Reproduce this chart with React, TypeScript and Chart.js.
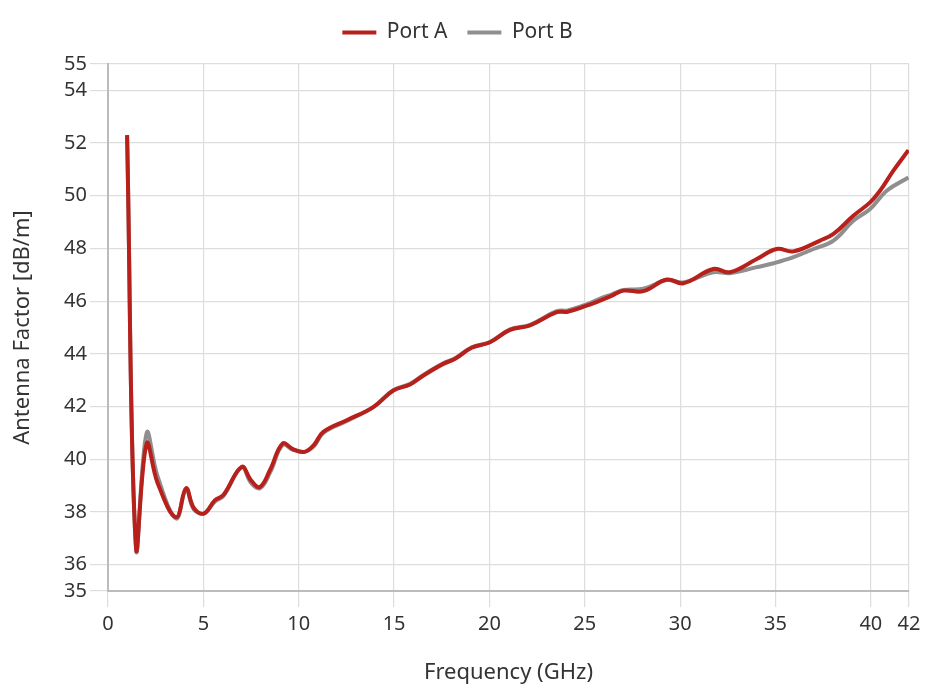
import React, { useEffect, useRef } from "react";
import { Chart, registerables } from "chart.js";

Chart.register(...registerables);

const freqA = [1.0, 1.47, 2.03, 2.6, 3.57, 4.09, 4.5, 5.03, 5.61, 6.05, 7.01, 7.5, 7.97, 8.5, 9.16, 9.7, 10.3, 10.8, 11.29, 12.52, 13.91, 14.96, 15.84, 16.54, 17.58, 18.2, 19.07, 20.03, 21.08, 22.13, 23.53, 24.1, 25.1, 25.8, 26.4, 27.02, 28.07, 29.3, 30.17, 31.74, 32.62, 34.02, 35.06, 35.94, 37.34, 38.04, 39.08, 39.96, 40.48, 41.18, 41.97];
const portA = [52.3, 36.65, 40.6, 39.1, 37.8, 38.9, 38.15, 37.94, 38.45, 38.64, 39.71, 39.2, 38.95, 39.6, 40.6, 40.38, 40.28, 40.55, 41.04, 41.48, 41.98, 42.61, 42.84, 43.18, 43.62, 43.81, 44.23, 44.44, 44.91, 45.08, 45.58, 45.6, 45.83, 46.02, 46.2, 46.4, 46.38, 46.82, 46.68, 47.22, 47.1, 47.6, 47.98, 47.89, 48.3, 48.55, 49.24, 49.75, 50.19, 50.95, 51.73];

const freqB = [1.0, 1.47, 2.03, 2.6, 3.57, 4.09, 4.5, 5.03, 5.61, 6.05, 7.01, 7.5, 7.97, 8.5, 9.16, 9.7, 10.3, 10.8, 11.29, 12.52, 13.91, 14.96, 15.84, 16.54, 17.58, 18.2, 19.07, 20.03, 21.08, 22.13, 23.53, 24.1, 25.1, 25.8, 26.4, 27.02, 28.07, 29.3, 30.17, 31.74, 32.62, 34.02, 34.9, 35.94, 36.99, 38.04, 39.08, 39.96, 40.83, 41.97];
const portB = [52.3, 36.6, 41.0, 39.35, 37.75, 38.85, 38.1, 37.95, 38.4, 38.6, 39.7, 39.1, 38.9, 39.5, 40.55, 40.36, 40.28, 40.5, 41.0, 41.45, 41.98, 42.62, 42.86, 43.2, 43.64, 43.83, 44.25, 44.45, 44.93, 45.1, 45.62, 45.65, 45.88, 46.1, 46.25, 46.42, 46.47, 46.8, 46.71, 47.1, 47.06, 47.29, 47.44, 47.67, 47.98, 48.3, 49.05, 49.5, 50.19, 50.69];

const xTicks = [0, 5, 10, 15, 20, 25, 30, 35, 40, 42];
const yTicks = [35, 36, 38, 40, 42, 44, 46, 48, 50, 52, 54, 55];

const FONT = "'Noto Sans', sans-serif";
const TEXT = "#333333";

const legendGap = {
  id: "legendGap",
  beforeInit(chart: any) {
    const lg = chart.legend;
    if (!lg) return;
    const orig = lg.fit;
    lg.fit = function () {
      orig.bind(lg)();
      this.height += 11;
    };
  },
};

export default function App() {
  const ref = useRef<HTMLCanvasElement | null>(null);
  useEffect(() => {
    if (!ref.current) return;
    const toPts = (xs: number[], ys: number[]) => xs.map((x, i) => ({ x, y: ys[i] }));
    const chart = new Chart(ref.current, {
      type: "line",
      data: {
        datasets: [
          {
            label: "Port A",
            data: toPts(freqA, portA),
            borderColor: "#b8201c",
            backgroundColor: "#b8201c",
            borderWidth: 4,
            pointRadius: 0,
            tension: 0.4,
          },
          {
            label: "Port B",
            data: toPts(freqB, portB),
            borderColor: "#8f8f8f",
            backgroundColor: "#8f8f8f",
            borderWidth: 4,
            pointRadius: 0,
            tension: 0.4,
          },
        ],
      },
      plugins: [legendGap],
      options: {
        animation: false,
        responsive: true,
        maintainAspectRatio: false,
        layout: { padding: { left: 6, right: 21, top: 2, bottom: 0 } },
        plugins: {
          tooltip: { enabled: false },
          legend: {
            position: "top",
            labels: {
              usePointStyle: true,
              pointStyle: "line",
              pointStyleWidth: 34,
              boxHeight: 21,
              color: TEXT,
              padding: 20,
              font: { family: FONT, size: 21 },
            },
          },
        },
        scales: {
          x: {
            type: "linear",
            min: 0,
            max: 42,
            afterBuildTicks: (s: any) => {
              s.ticks = xTicks.map((v) => ({ value: v }));
            },
            afterFit: (s: any) => {
              s.height = 105;
            },
            grid: { color: "#dddddd", lineWidth: 1.2, tickLength: 16, tickColor: "#dddddd" },
            border: { color: "#bbbbbb", width: 2 },
            ticks: {
              color: TEXT,
              font: { family: FONT, size: 20 },
              maxRotation: 0,
              autoSkip: false,
              padding: 5,
            },
            title: {
              display: true,
              text: "Frequency (GHz)",
              color: TEXT,
              font: { family: FONT, size: 22 },
              padding: { top: 5, bottom: 10 },
            },
          },
          y: {
            type: "linear",
            min: 35,
            max: 55,
            afterBuildTicks: (s: any) => {
              s.ticks = yTicks.map((v) => ({ value: v }));
            },
            afterFit: (s: any) => {
              s.width = 102;
            },
            grid: { color: "#dddddd", lineWidth: 1.2, tickLength: 18, tickColor: "#dddddd" },
            border: { color: "#bbbbbb", width: 2 },
            ticks: {
              color: TEXT,
              font: { family: FONT, size: 20 },
              autoSkip: false,
              padding: 3,
            },
            title: {
              display: true,
              text: "Antenna Factor [dB/m]",
              color: TEXT,
              font: { family: FONT, size: 22 },
              padding: { bottom: 6 },
            },
          },
        },
      },
    } as any);
    return () => chart.destroy();
  }, []);
  return (
    <div style={{ position: "fixed", left: 0, top: 0, width: 930, height: 696, background: "#fff" }}>
      <canvas ref={ref} />
    </div>
  );
}
